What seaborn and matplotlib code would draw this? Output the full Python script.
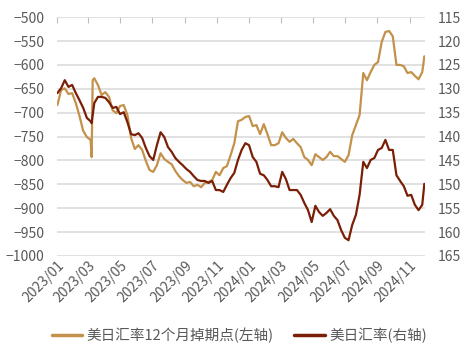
import pandas as pd
import matplotlib
matplotlib.use("Agg")
import matplotlib.pyplot as plt
import matplotlib.dates as mdates
import seaborn as sns

# weekly readings (plus two extra days around the March 2023 spike)
dates = ["2023-01-02", "2023-01-09", "2023-01-16", "2023-01-23", "2023-01-30",
         "2023-02-06", "2023-02-13", "2023-02-20", "2023-02-27", "2023-03-06",
         "2023-03-08", "2023-03-10",
         "2023-03-13", "2023-03-20", "2023-03-27", "2023-04-03", "2023-04-10",
         "2023-04-17", "2023-04-24", "2023-05-01", "2023-05-08", "2023-05-15",
         "2023-05-22", "2023-05-29", "2023-06-05", "2023-06-12", "2023-06-19",
         "2023-06-26", "2023-07-03", "2023-07-10", "2023-07-17", "2023-07-24",
         "2023-07-31", "2023-08-07", "2023-08-14", "2023-08-21", "2023-08-28",
         "2023-09-04", "2023-09-11", "2023-09-18", "2023-09-25", "2023-10-02",
         "2023-10-09", "2023-10-16", "2023-10-23", "2023-10-30", "2023-11-06",
         "2023-11-13", "2023-11-20", "2023-11-27", "2023-12-04", "2023-12-11",
         "2023-12-18", "2023-12-25", "2024-01-01", "2024-01-08", "2024-01-15",
         "2024-01-22", "2024-01-29", "2024-02-05", "2024-02-12", "2024-02-19",
         "2024-02-26", "2024-03-04", "2024-03-11", "2024-03-18", "2024-03-25",
         "2024-04-01", "2024-04-08", "2024-04-15", "2024-04-22", "2024-04-29",
         "2024-05-06", "2024-05-13", "2024-05-20", "2024-05-27", "2024-06-03",
         "2024-06-10", "2024-06-17", "2024-06-24", "2024-07-01", "2024-07-08",
         "2024-07-15", "2024-07-22", "2024-07-29", "2024-08-05", "2024-08-12",
         "2024-08-19", "2024-08-26", "2024-09-02", "2024-09-09", "2024-09-16",
         "2024-09-23", "2024-09-30", "2024-10-07", "2024-10-14", "2024-10-21",
         "2024-10-28", "2024-11-04", "2024-11-11", "2024-11-18", "2024-11-25",
         "2024-11-29"]

swap_points = [-684, -653, -649, -661, -659, -680, -707, -738, -751, -757,
               -793, -632,
               -628, -642, -663, -657, -667, -695, -701, -686, -684, -705,
               -753, -776, -768, -778, -801, -820, -824, -810, -785, -797,
               -803, -808, -822, -833, -841, -847, -845, -854, -851, -856,
               -847, -845, -841, -824, -831, -816, -812, -789, -764, -718,
               -715, -709, -707, -728, -726, -745, -724, -745, -768, -768,
               -764, -741, -753, -761, -755, -764, -772, -793, -799, -810,
               -787, -793, -799, -793, -782, -791, -791, -797, -803, -789,
               -747, -726, -705, -617, -632, -615, -600, -594, -552, -531,
               -529, -540, -600, -600, -603, -617, -615, -623, -630, -615,
               -582]

usdjpy = [130.9, 129.9, 128.2, 129.6, 129.2, 130.9, 132.4, 134.0, 136.1, 136.8,
          137.2, 135.5,
          133.0, 131.7, 131.7, 131.9, 132.8, 134.0, 133.8, 135.3, 134.9, 137.0,
          139.5, 139.7, 139.3, 140.3, 142.4, 144.1, 144.9, 141.8, 139.1, 140.1,
          142.2, 143.2, 144.5, 145.3, 146.0, 146.8, 147.4, 148.3, 149.1, 149.3,
          149.3, 149.7, 149.3, 151.2, 151.2, 151.6, 150.1, 148.7, 147.6, 144.9,
          142.8, 141.4, 141.8, 144.3, 145.3, 147.8, 148.1, 149.1, 150.4, 150.4,
          150.6, 147.4, 148.9, 151.2, 151.2, 151.2, 152.2, 153.9, 155.4, 157.9,
          154.5, 155.8, 156.6, 156.0, 155.2, 156.6, 157.5, 159.6, 161.2, 161.7,
          158.5, 156.4, 152.2, 145.3, 146.6, 144.9, 144.5, 142.8, 142.4, 140.7,
          142.8, 142.8, 148.1, 149.3, 150.4, 152.4, 152.2, 154.3, 155.4, 154.3,
          149.9]

label_swap = "美日汇率12个月掉期点(左轴)"
label_fx = "美日汇率(右轴)"

df = pd.DataFrame({"date": pd.to_datetime(dates), "swap": swap_points, "fx": usdjpy})

sns.set_style("white")
plt.rcParams["font.family"] = ["Noto Sans CJK SC", "DejaVu Sans"]
grey = "#595959"
tan = "#C4914B"
dark = "#7A1F05"

fig, ax = plt.subplots(figsize=(4.7, 3.57), dpi=100)
fig.subplots_adjust(left=0.121, right=0.904, top=0.952, bottom=0.283)
ax2 = ax.twinx()

sns.lineplot(data=df, x="date", y="swap", ax=ax, color=tan, linewidth=1.6, label=label_swap, legend=False)
sns.lineplot(data=df, x="date", y="fx", ax=ax2, color=dark, linewidth=1.6, label=label_fx, legend=False)

ax.set_ylim(-1000, -500)
ax.set_yticks(range(-1000, -499, 50))
ax2.set_ylim(165, 115)
ax2.set_yticks(range(115, 166, 5))
ax.set_xlim(pd.Timestamp("2023-01-01"), pd.Timestamp("2024-11-30"))

ax.xaxis.set_major_locator(mdates.MonthLocator(bymonth=[1, 3, 5, 7, 9, 11]))
ax.xaxis.set_major_formatter(mdates.DateFormatter("%Y/%m"))
ax.grid(axis="y", color="#D9D9D9", linewidth=1.1)
ax.set_axisbelow(True)

for a in (ax, ax2):
    for s in a.spines.values():
        s.set_visible(False)
    a.set_xlabel("")
    a.set_ylabel("")
    a.tick_params(axis="y", length=0, labelsize=10, labelcolor=grey, pad=9)

ax.tick_params(axis="x", bottom=False, top=True, labeltop=False, labelbottom=True,
               direction="in", length=4, color="#BFBFBF", labelsize=10, labelcolor=grey, pad=2)
for lbl in ax.get_xticklabels():
    lbl.set_rotation(45)
    lbl.set_ha("right")
    lbl.set_rotation_mode("anchor")

h1, l1 = ax.get_legend_handles_labels()
h2, l2 = ax2.get_legend_handles_labels()
fig.legend(h1 + h2, l1 + l2, loc="center", bbox_to_anchor=(0.509, 0.06), ncol=2,
           frameon=False, fontsize=10.5, labelcolor=grey, handlelength=2.1,
           columnspacing=1.4, handletextpad=0.3)
for line in fig.legends[0].get_lines():
    line.set_linewidth(2.5)

fig.savefig("out.png", dpi=100)
